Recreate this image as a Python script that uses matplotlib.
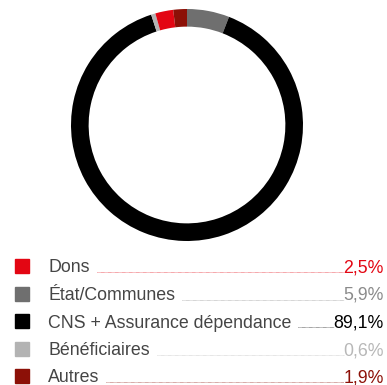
import matplotlib
matplotlib.use("Agg")
import matplotlib.pyplot as plt
from matplotlib.lines import Line2D

categories = ["Dons", "État/Communes", "CNS + Assurance dépendance", "Bénéficiaires", "Autres"]
values = [2.5, 5.9, 89.1, 0.6, 1.9]
labels_pct = ["2,5%", "5,9%", "89,1%", "0,6%", "1,9%"]
colors = ["#e30613", "#6f6f6f", "#000000", "#b3b3b3", "#8c1007"]
pct_colors = ["#e30613", "#8a8a8a", "#000000", "#b8b8b8", "#8c1007"]
# order of slices clockwise from 12 o'clock
pie_order = [1, 2, 3, 0, 4]

W, H = 387, 385
fig = plt.figure(figsize=(W / 100, H / 100), dpi=100)

cx, cy, r = 187, 125, 116
ax = fig.add_axes([(cx - r) / W, (H - (cy + r)) / H, 2 * r / W, 2 * r / H])
ax.pie([values[i] for i in pie_order], colors=[colors[i] for i in pie_order],
       startangle=90, counterclock=False, radius=1.0,
       wedgeprops=dict(width=0.152, linewidth=0))
ax.set_xlim(-1, 1)
ax.set_ylim(-1, 1)
ax.set_aspect("equal")
ax.axis("off")

font = "Liberation Sans"
baselines = [272.5, 300, 327.5, 355, 382.5]
renderer = fig.canvas.get_renderer()
for i, (cat, pct) in enumerate(zip(categories, labels_pct)):
    yb = baselines[i]
    yf = 1 - yb / H
    sq = 14
    fig.patches.append(plt.Rectangle((15 / W, 1 - (yb + 0.5) / H), sq / W, sq / H,
                                     transform=fig.transFigure, color=colors[i], figure=fig))
    t = fig.text(48 / W, yf, cat, fontsize=12.8, family=font, color="#454545",
                 ha="left", va="baseline")
    p = fig.text(384 / W, yf, pct, fontsize=12.8, family=font, color=pct_colors[i],
                 ha="right", va="baseline")
    bt = t.get_window_extent(renderer)
    bp = p.get_window_extent(renderer)
    x0 = (bt.x1 + 7) / W
    x1 = (bp.x0) / W
    yl = 1 - (yb - 0.5) / H
    fig.lines.append(Line2D([x0, x1], [yl, yl], transform=fig.transFigure,
                            color=pct_colors[i], linewidth=0.6, linestyle=(0, (0.7, 0.7)),
                            alpha=0.7, figure=fig))

fig.savefig("out.png", dpi=100)
